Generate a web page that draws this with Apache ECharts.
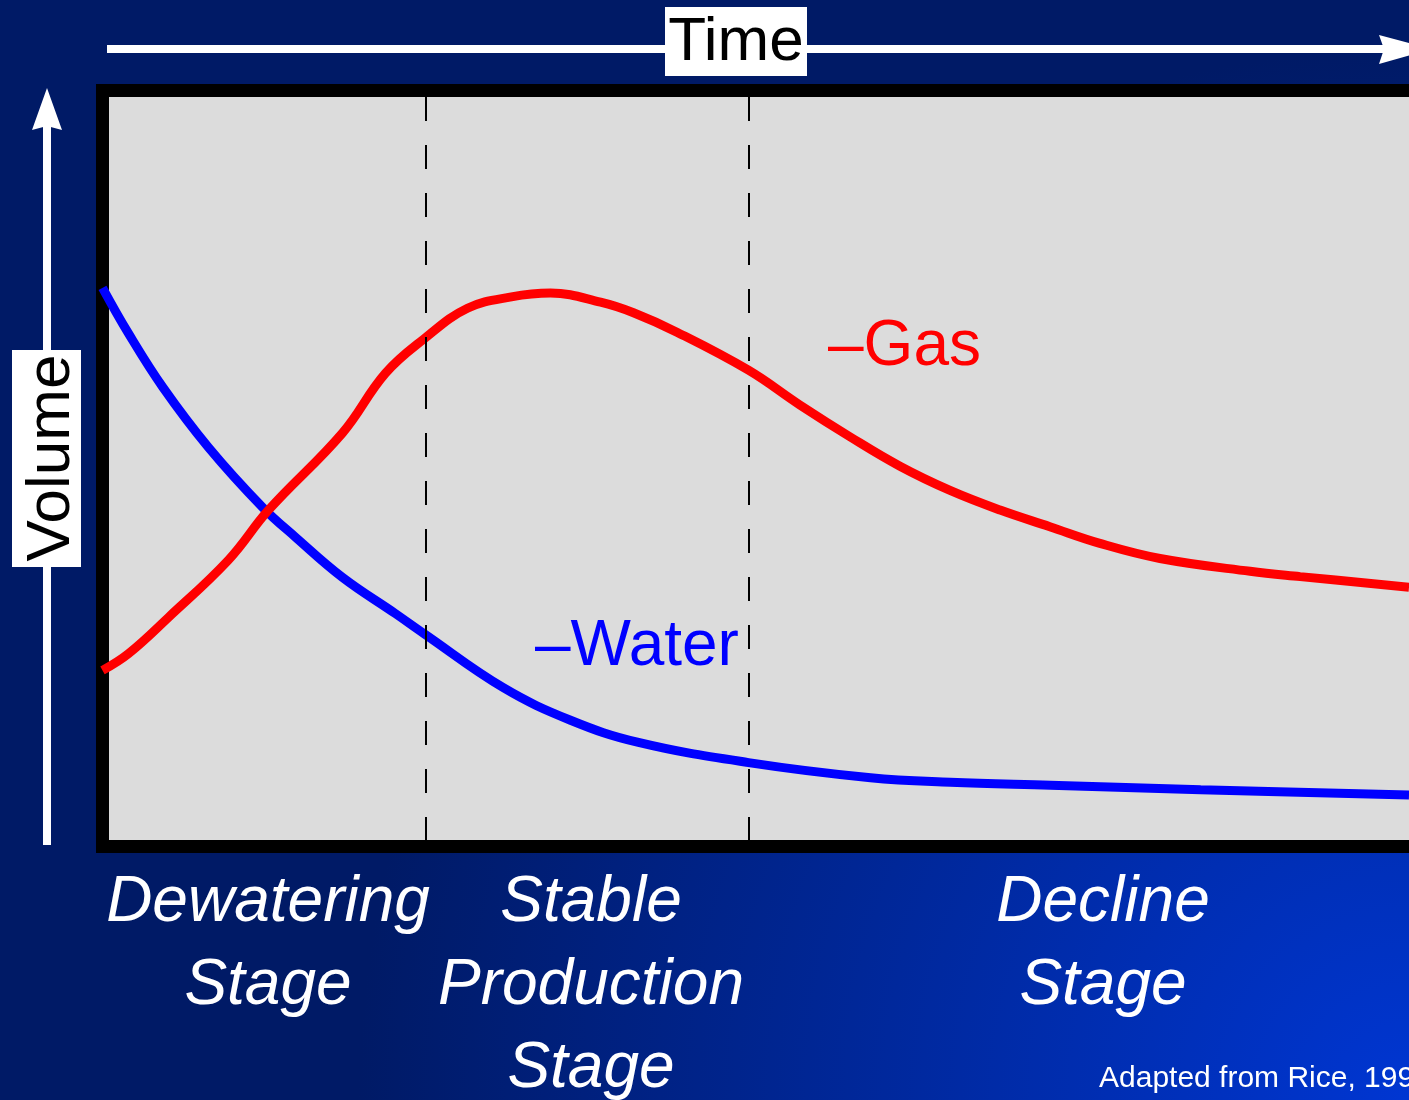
<!DOCTYPE html>
<html>
<head>
<meta charset="utf-8">
<title>Coalbed methane production stages</title>
<script src="https://cdn.jsdelivr.net/npm/echarts@6/dist/echarts.min.js"></script>
<style>
  html, body { margin: 0; padding: 0; background: #001a66; }
  #chart { width: 1409px; height: 1100px; }
</style>
</head>
<body>
<div id="chart"></div>
<script>
// time in stage units (1 = end of dewatering, 2 = end of stable production)
const waterTime = [0, 0.08, 0.186, 0.328, 0.495, 0.598, 0.743, 0.907, 0.997, 1.241, 1.449, 1.656, 2.0, 2.378, 2.625, 2.935, 3.4, 4.045];
const waterVolume = [7.39, 6.79, 6.08, 5.28, 4.49, 4.09, 3.56, 3.08, 2.81, 2.1, 1.67, 1.38, 1.11, 0.91, 0.85, 0.81, 0.75, 0.68];

const gasTime = [0, 0.08, 0.204, 0.39, 0.514, 0.743, 0.876, 0.997, 1.13, 1.266, 1.387, 1.542, 1.644, 1.78, 2.0, 2.159, 2.314, 2.469, 2.624, 2.779, 2.933, 3.088, 3.274, 3.553, 3.708, 4.045];
const gasVolume = [2.33, 2.55, 3.03, 3.79, 4.45, 5.47, 6.26, 6.72, 7.12, 7.27, 7.32, 7.2, 7.06, 6.8, 6.3, 5.84, 5.42, 5.03, 4.71, 4.45, 4.23, 4.01, 3.81, 3.64, 3.57, 3.43];

const stageBounds = [1, 2];
const stageLabels = ["Dewatering\nStage", "Stable\nProduction\nStage", "Decline\nStage"];

const font = "Liberation Sans, Arial, sans-serif";
const chart = echarts.init(document.getElementById("chart"));

const pairs = (xs, ys) => xs.map((x, i) => [x, ys[i]]);

const frameLine = {
  show: true,
  onZero: false,
  lineStyle: { color: "#000000", width: 13, cap: "square" },
};
const hiddenAxis = {
  axisTick: { show: false },
  axisLabel: { show: false },
  splitLine: { show: false },
};

const option = {
  animation: false,
  backgroundColor: "transparent",
  grid: {
    show: true,
    left: 102.5,
    top: 90.5,
    right: 0,
    bottom: 253.5,
    backgroundColor: "#dcdcdc",
    borderWidth: 0,
  },
  xAxis: [
    { type: "value", min: 0, max: 4.045, position: "bottom", axisLine: frameLine, ...hiddenAxis },
    { type: "value", min: 0, max: 4.045, position: "top", axisLine: frameLine, ...hiddenAxis },
  ],
  yAxis: {
    type: "value",
    min: 0,
    max: 10,
    position: "left",
    axisLine: frameLine,
    ...hiddenAxis,
  },
  series: [
    {
      name: "Water",
      type: "line",
      data: pairs(waterTime, waterVolume),
      smooth: 0.4,
      showSymbol: false,
      lineStyle: { color: "#0000ff", width: 9 },
      silent: true,
    },
    {
      name: "Gas",
      type: "line",
      data: pairs(gasTime, gasVolume),
      smooth: 0.4,
      showSymbol: false,
      lineStyle: { color: "#ff0000", width: 9 },
      silent: true,
    },
    {
      name: "stages",
      type: "line",
      data: [],
      z: 5,
      markLine: {
        silent: true,
        symbol: "none",
        label: { show: false },
        lineStyle: { color: "#000000", width: 2, type: [24, 24], dashOffset: 42.5 },
        data: stageBounds.map((b) => ({ xAxis: b })),
      },
    },
  ],
  graphic: [
    {
      type: "rect",
      z: -100,
      silent: true,
      shape: { x: 0, y: 0, width: 1409, height: 1100 },
      style: {
        fill: new echarts.graphic.RadialGradient(1409, 1100, 1050, [
          { offset: 0, color: "#0036d2" },
          { offset: 1, color: "#001a66" },
        ], true),
      },
    },
    // time arrow
    {
      type: "line",
      z: 100,
      shape: { x1: 107, y1: 49, x2: 1390, y2: 49 },
      style: { stroke: "#ffffff", lineWidth: 8 },
    },
    {
      type: "polygon",
      z: 100,
      shape: { points: [[1379, 35], [1432, 49], [1379, 64], [1384, 49]] },
      style: { fill: "#ffffff" },
    },
    {
      type: "rect",
      z: 101,
      shape: { x: 665, y: 7, width: 142, height: 69 },
      style: { fill: "#ffffff" },
    },
    {
      type: "text",
      z: 102,
      x: 736,
      y: 43,
      style: {
        text: "Time",
        font: "62px " + font,
        fill: "#000000",
        align: "center",
        verticalAlign: "middle",
      },
    },
    // volume arrow
    {
      type: "line",
      z: 100,
      shape: { x1: 47, y1: 845, x2: 47, y2: 122 },
      style: { stroke: "#ffffff", lineWidth: 8 },
    },
    {
      type: "polygon",
      z: 100,
      shape: { points: [[32, 130], [47, 88], [62, 130], [47, 126]] },
      style: { fill: "#ffffff" },
    },
    {
      type: "rect",
      z: 101,
      shape: { x: 12, y: 350, width: 69, height: 217 },
      style: { fill: "#ffffff" },
    },
    {
      type: "text",
      z: 102,
      x: 52,
      y: 458,
      rotation: Math.PI / 2,
      style: {
        text: "Volume",
        font: "62px " + font,
        fill: "#000000",
        align: "center",
        verticalAlign: "middle",
      },
    },
    // curve labels
    {
      type: "text",
      z: 102,
      x: 828,
      y: 347,
      style: { text: "\u2013Gas", font: "64px " + font, fill: "#ff0000", verticalAlign: "middle" },
    },
    {
      type: "text",
      z: 102,
      x: 535,
      y: 647,
      style: { text: "\u2013Water", font: "64px " + font, fill: "#0000ff", verticalAlign: "middle" },
    },
    // stage labels
    ...[268, 591, 1103].map((cx, i) => ({
      type: "text",
      z: 102,
      x: cx,
      y: 862,
      style: {
        text: stageLabels[i],
        font: "italic 64px " + font,
        fill: "#ffffff",
        align: "center",
        verticalAlign: "top",
        lineHeight: 83,
      },
    })),
    {
      type: "text",
      z: 102,
      x: 1099,
      y: 1079,
      style: {
        text: "Adapted from Rice, 1993",
        font: "30px " + font,
        fill: "#ffffff",
        verticalAlign: "middle",
      },
    },
  ],
};

chart.setOption(option);
</script>
</body>
</html>
